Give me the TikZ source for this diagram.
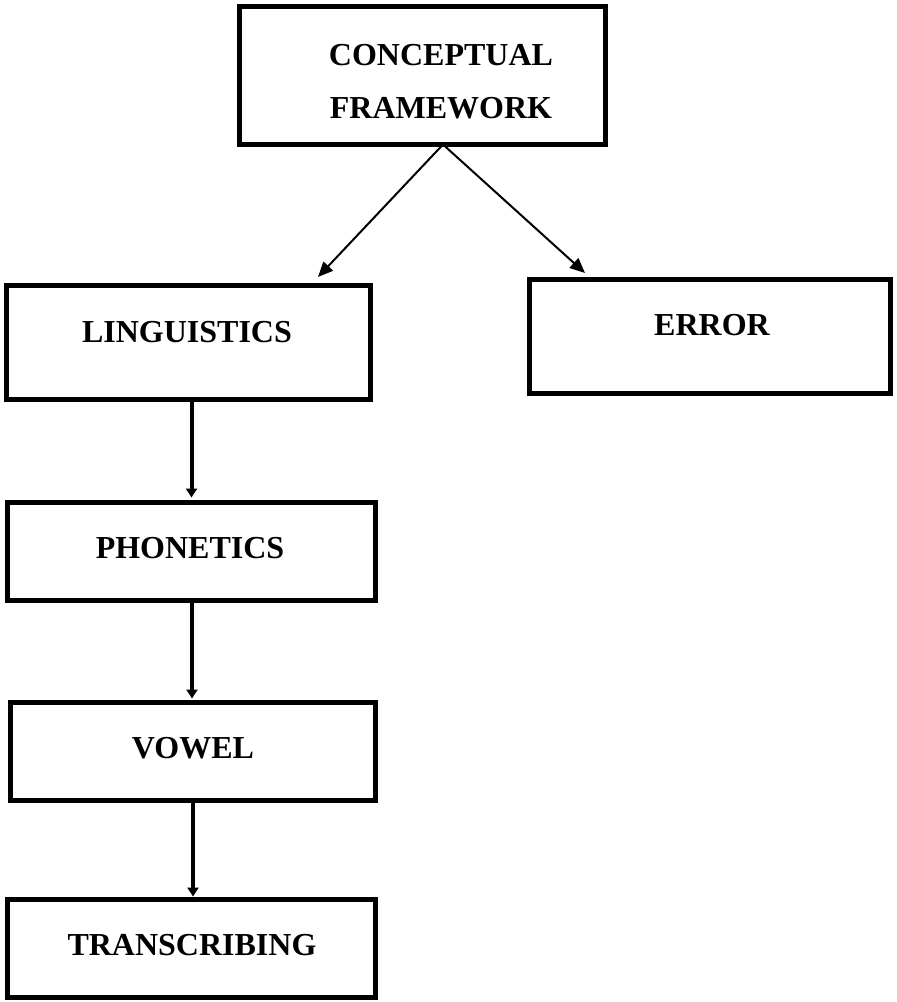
\documentclass[tikz,border=0pt]{standalone}
\usepackage{fontspec}
\setmainfont{Liberation Serif}
\usetikzlibrary{arrows.meta}
\begin{document}
\begin{tikzpicture}[x=1pt,y=-1pt,
  box/.style={draw=black,line width=5pt,inner sep=0pt,outer sep=0pt,rectangle},
  lbl/.style={anchor=base,inner sep=0pt,font=\fontsize{32}{38}\selectfont\bfseries},
  diag/.style={line width=2pt,-{Triangle[length=15pt,width=13pt]}},
  vert/.style={line width=4pt,-{Triangle[length=9pt,width=11pt]}}]
\useasboundingbox[fill=white] (0,0) rectangle (897,1002);
% boxes
\node[box,minimum width=366.5pt,minimum height=138pt] (cf) at (422.25,75.5) {};
\node[box,minimum width=364pt,minimum height=114pt] (ling) at (188.5,342.5) {};
\node[box,minimum width=361pt,minimum height=114pt] (err) at (710,336.5) {};
\node[box,minimum width=368pt,minimum height=98pt] (phon) at (191.5,551.5) {};
\node[box,minimum width=365pt,minimum height=98pt] (vow) at (193,751.5) {};
\node[box,minimum width=368pt,minimum height=98pt] (trans) at (191.5,948.5) {};
% labels
\node[lbl] (cft1) at (441,65) {CONCEPTUAL};
\node[lbl] (cft2) at (441,118) {FRAMEWORK};
\node[lbl] (lingt) at (187,342) {LINGUISTICS};
\node[lbl] (errt) at (712,335) {ERROR};
\node[lbl] (phont) at (190,558) {PHONETICS};
\node[lbl] (vowt) at (193,758) {VOWEL};
\node[lbl] (transt) at (192,955) {TRANSCRIBING};
% connectors
\draw[diag] ([xshift=20.75pt]cf.south) -- ([xshift=129.5pt,yshift=8.5pt]ling.north);
\draw[diag] ([xshift=20.75pt]cf.south) -- ([xshift=-125pt,yshift=6.5pt]err.north);
\draw[vert] (phon.north |- ling.south) -- ([yshift=5pt]phon.north);
\draw[vert] ([xshift=-1pt]vow.north |- phon.south) -- ([xshift=-1pt,yshift=4pt]vow.north);
\draw[vert] ([xshift=1.5pt]trans.north |- vow.south) -- ([xshift=1.5pt,yshift=3pt]trans.north);
\end{tikzpicture}
\end{document}
